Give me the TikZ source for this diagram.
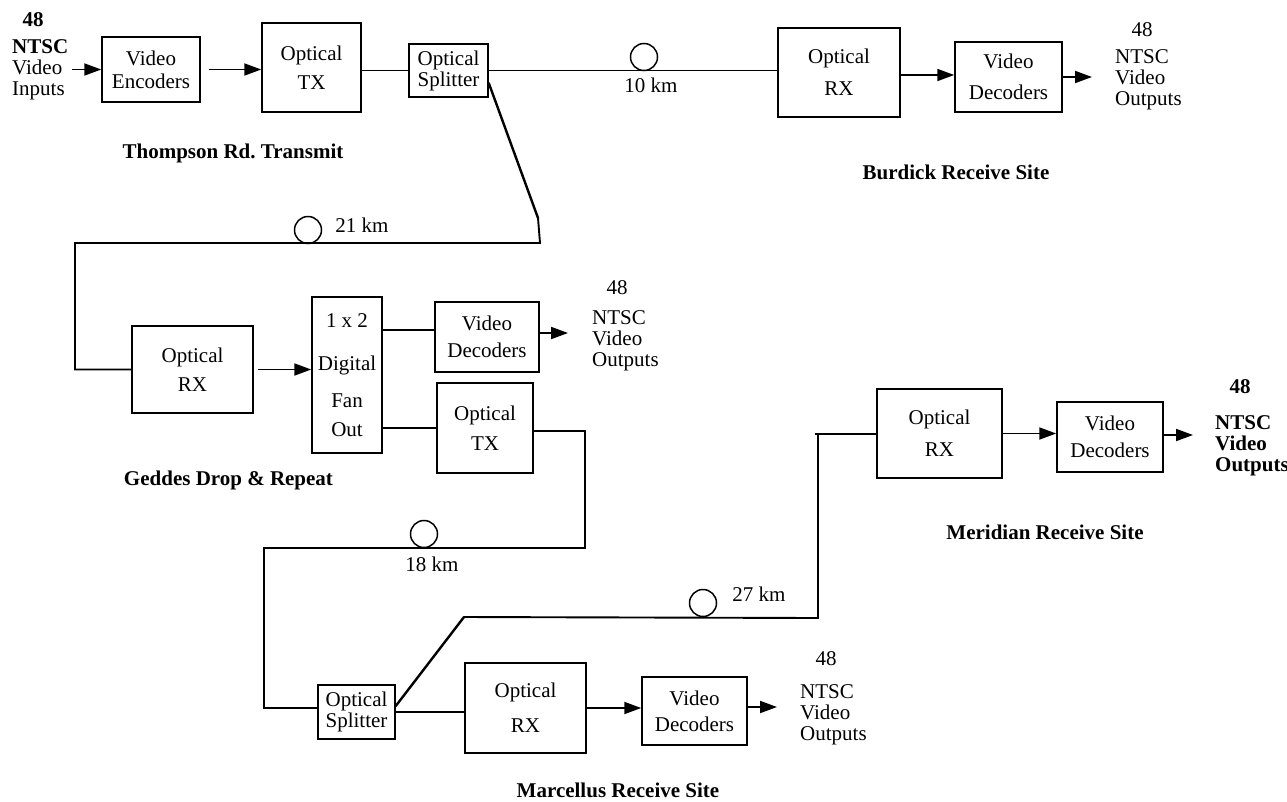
\documentclass[tikz,border=0pt]{standalone}
\usepackage{fontspec}
\setmainfont{Liberation Serif}
\usetikzlibrary{arrows.meta}
\newcommand{\dfont}{\fontsize{21}{21}\selectfont}
\frenchspacing
\begin{document}
\begin{tikzpicture}[x=1pt,y=-1pt,
  box/.style={draw, line width=1.5pt, align=center, inner sep=0pt, font=\dfont},
  fiber/.style={line width=1.9pt, line join=miter},
  diag/.style={line width=2.4pt, line cap=round},
  arr/.style={line width=1.9pt, -{Triangle[length=17pt,width=12pt]}},
  loopc/.style={draw, circle, line width=1.5pt, minimum size=27pt, inner sep=0pt},
  lbl/.style={font=\dfont, inner sep=0pt},
  site/.style={font=\dfont\bfseries, inner sep=0pt},
  outl/.style={font=\dfont, align=left, inner sep=0pt, anchor=west},
]
\useasboundingbox[fill=white] (0,0) rectangle (1287,801);

% ---------- boxes ----------
\node[box, minimum width=98pt, minimum height=65pt] (enc) at (151,69.5) {Video\\[2pt]Encoders};
\node[box, minimum width=99pt, minimum height=89pt] (tx1) at (311.5,67.5) {Optical\\[8pt]TX};
\node[box, minimum width=79pt, minimum height=53pt] (spl1) at (448.5,70.5) {Optical\\Splitter};
\node[box, minimum width=122pt, minimum height=89pt] (rx1) at (839,72.5) {Optical\\[11pt]RX};
\node[box, minimum width=107pt, minimum height=70pt] (dec1) at (1008.5,77) {Video\\[10pt]Decoders};

\node[box, minimum width=121pt, minimum height=87pt] (rx2) at (192.5,369.5) {Optical\\[8pt]RX};
\node[box, minimum width=70pt, minimum height=156pt] (fan) at (347,375) {1 x 2\\[22pt]Digital\\[16pt]Fan\\[8pt]Out};
\node[box, minimum width=104pt, minimum height=70pt] (dec2) at (487,337) {Video\\[6pt]Decoders};
\node[box, minimum width=96pt, minimum height=90pt] (tx2) at (485,428) {Optical\\[9pt]TX};

\node[box, minimum width=77pt, minimum height=54pt] (spl2) at (356.5,712) {Optical\\Splitter};
\node[box, minimum width=121pt, minimum height=90pt] (rx3) at (525.5,708) {Optical\\[14pt]RX};
\node[box, minimum width=105pt, minimum height=68pt] (dec3) at (694.5,711) {Video\\[5pt]Decoders};

\node[box, minimum width=125pt, minimum height=89pt] (rx4) at (939.5,433.5) {Optical\\[11pt]RX};
\node[box, minimum width=106pt, minimum height=70pt] (dec4) at (1110,437) {Video\\[6pt]Decoders};

% ---------- fibre loops ----------
\node[loopc] (loopA) at (644,57) {};
\node[loopc] (loopB) at (308,230) {};
\node[loopc] (loopC) at (424,534) {};
\node[loopc] (loopD) at (703,603) {};
\node[lbl] (kmA) at (651,85) {10 km};
\node[lbl] (kmB) at (362,225) {21 km};
\node[lbl] (kmC) at (432,564) {18 km};
\node[lbl] (kmD) at (759,594) {27 km};

% ---------- site labels ----------
\node[site] (siteT) at (233,153) {Thompson Rd. Transmit};
\node[site] (siteB) at (956,172) {Burdick Receive Site};
\node[site] (siteG) at (228.5,480) {Geddes Drop \& Repeat};
\node[site] (siteM) at (1045,532) {Meridian Receive Site};
\node[site] (siteC) at (618,790) {Marcellus Receive Site};

% ---------- channel labels ----------
\node[lbl, font=\dfont\bfseries] (n0) at (33,20) {48};
\node[outl] (t0) at (12,70) {\textbf{NTSC}\\Video\\Inputs};
\node[lbl] (n1) at (1142,30) {48};
\node[outl] (t1) at (1115,80) {NTSC\\Video\\Outputs};
\node[lbl] (n2) at (617,288) {48};
\node[outl] (t2) at (592,341) {NTSC\\Video\\Outputs};
\node[lbl] (n3) at (826,659) {48};
\node[outl] (t3) at (800,715) {NTSC\\Video\\Outputs};
\node[lbl, font=\dfont\bfseries] (n4) at (1240,387) {48};
\node[outl, font=\dfont\bfseries] (t4) at (1215,446) {NTSC\\Video\\Outputs};

% ---------- coordinates ----------
\coordinate (i0) at (72,69.5);
\coordinate (o1) at (1092,77);
\coordinate (o2) at (568,333);
\coordinate (o3) at (777,707);
\coordinate (o4) at (1193,435);
\coordinate (a1) at ([yshift=-2.5pt]rx1.east);
\coordinate (f1) at ([yshift=7pt]dec2.west);
\coordinate (d1) at ([yshift=-12.5pt]spl1.east);
\coordinate (k1) at (538,218);
\coordinate (k2) at (540,243);
\coordinate (k3) at (75,243);
\coordinate (k4) at (585,431);
\coordinate (k5) at (585,548);
\coordinate (k6) at (264,548);
\coordinate (s2in) at ([yshift=4pt]spl2.west);
\coordinate (d2) at ([yshift=6pt]spl2.east);
\coordinate (k7) at (464,617);
\coordinate (k8) at (818,618);
\coordinate (k9) at (818,434);

% ---------- top row ----------
\draw[arr] (i0) -- (enc.west);
\draw[arr, shorten <=8pt] (enc.east) -- (enc.east -| tx1.west);
\draw[fiber] (tx1.east |- spl1.west) -- (spl1.west);
\draw[fiber] (spl1.east) -- (spl1.east -| rx1.west);
\draw[arr] (a1) -- (a1 -| dec1.west);
\draw[arr] (dec1.east) -- (o1);

% ---------- to Geddes ----------
\draw[diag] (d1) -- (k1);
\draw[fiber] (k1) -- (k2) -- (k3) -- (k3 |- rx2.west) -- (rx2.west);
\draw[arr, shorten <=4pt] (rx2.east) -- (rx2.east -| fan.west);
\draw[fiber] (f1 -| fan.east) -- (f1);
\draw[arr] ([yshift=4pt]dec2.east) -- (o2);
\draw[fiber] (tx2.west -| fan.east) -- (tx2.west);

% ---------- to Marcellus ----------
\draw[fiber] (tx2.east |- k4) -- (k4) -- (k5) -- (k6) -- (k6 |- s2in) -- (s2in);
\draw[fiber] (spl2.east) -- (spl2.east -| rx3.west);
\draw[arr] (rx3.east) -- (rx3.east -| dec3.west);
\draw[arr] ([yshift=4pt]dec3.east) -- (o3);

% ---------- to Meridian ----------
\draw[diag] (d2) -- (k7);
\draw[fiber] (k7) -- (k8) -- (k9);
\draw[fiber] ([xshift=-3pt]k9) -- (k9 -| rx4.west);
\draw[arr] (rx4.east) -- (rx4.east -| dec4.west);
\draw[arr] ([yshift=2pt]dec4.east) -- (o4);
\end{tikzpicture}
\end{document}
